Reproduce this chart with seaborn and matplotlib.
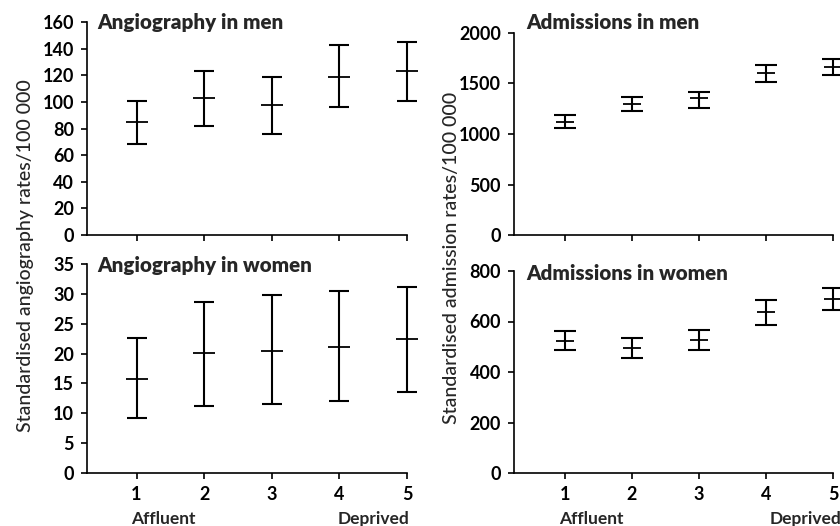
import matplotlib
matplotlib.use("Agg")
import matplotlib.pyplot as plt
import seaborn as sns
import pandas as pd
import numpy as np

# ---- data ----
quintiles = [1, 2, 3, 4, 5]

angio_men = [85, 103, 98, 119, 123]
angio_men_lo = [68, 82, 76, 96, 101]
angio_men_hi = [101, 123, 119, 143, 145]

angio_women = [15.7, 20.1, 20.5, 21.1, 22.4]
angio_women_lo = [9.2, 11.3, 11.6, 12.1, 13.5]
angio_women_hi = [22.6, 28.6, 29.8, 30.4, 31.2]

adm_men = [1120, 1298, 1352, 1608, 1668]
adm_men_lo = [1058, 1232, 1258, 1513, 1580]
adm_men_hi = [1192, 1368, 1420, 1688, 1745]

adm_women = [522, 494, 528, 638, 690]
adm_women_lo = [488, 456, 486, 588, 645]
adm_women_hi = [561, 536, 567, 686, 733]

titles = ["Angiography in men", "Angiography in women",
          "Admissions in men", "Admissions in women"]
ylabels = ["Standardised angiography rates/100 000",
           "Standardised admission rates/100 000"]
xticklabels = ["1", "2", "3", "4", "5"]
end_labels = ["Affluent", "Deprived"]

angio_men_ticks = [0, 20, 40, 60, 80, 100, 120, 140, 160]
angio_women_ticks = [0, 5, 10, 15, 20, 25, 30, 35]
adm_men_ticks = [0, 500, 1000, 1500, 2000]
adm_women_ticks = [0, 200, 400, 600, 800]

# ---- style ----
sns.set_theme(style="ticks")
plt.rcParams["font.family"] = ["Lato", "DejaVu Sans"]
plt.rcParams["axes.linewidth"] = 1.2
plt.rcParams["xtick.major.width"] = 1.2
plt.rcParams["ytick.major.width"] = 1.2
plt.rcParams["xtick.major.size"] = 4
plt.rcParams["ytick.major.size"] = 4.3
plt.rcParams["xtick.major.pad"] = 5
plt.rcParams["ytick.major.pad"] = 5
plt.rcParams["xtick.color"] = "black"
plt.rcParams["ytick.color"] = "black"
plt.rcParams["axes.edgecolor"] = "black"

W, H = 840, 526
fig = plt.figure(figsize=(W / 100, H / 100), dpi=100)
TW = "bold"


def px_axes(left, right, top, bottom):
    return fig.add_axes([left / W, 1 - bottom / H, (right - left) / W, (bottom - top) / H])


panels = [
    dict(box=(87, 407, 22, 235), xlim=(0.268, 5.0), y=angio_men, lo=angio_men_lo,
         hi=angio_men_hi, ticks=angio_men_ticks, title=titles[0], tx=97, ty=29,
         cap=7, mk=16, bottom=False, dx=2),
    dict(box=(87, 407, 264, 473), xlim=(0.268, 5.0), y=angio_women, lo=angio_women_lo,
         hi=angio_women_hi, ticks=angio_women_ticks, title=titles[1], tx=97, ty=272,
         cap=7, mk=16, bottom=True, dx=2),
    dict(box=(514, 833, 33, 235), xlim=(0.239, 5.0), y=adm_men, lo=adm_men_lo,
         hi=adm_men_hi, ticks=adm_men_ticks, title=titles[2], tx=526, ty=29,
         cap=8, mk=13, bottom=False, dx=6),
    dict(box=(514, 833, 271, 473), xlim=(0.239, 5.0), y=adm_women, lo=adm_women_lo,
         hi=adm_women_hi, ticks=adm_women_ticks, title=titles[3], tx=526, ty=280,
         cap=8, mk=13, bottom=True, dx=6),
]

for p in panels:
    ax = px_axes(*p["box"])
    df = pd.DataFrame({"q": quintiles, "v": p["y"]})
    yerr = np.array([np.array(p["y"]) - np.array(p["lo"]),
                     np.array(p["hi"]) - np.array(p["y"])])
    ax.errorbar(df["q"], df["v"], yerr=yerr, fmt="none", ecolor="black",
                elinewidth=1.5, capsize=p["cap"], capthick=1.5, clip_on=False, zorder=3)
    sns.scatterplot(data=df, x="q", y="v", marker="_", s=p["mk"] ** 2, color="black",
                    linewidth=1.3, ax=ax, clip_on=False, zorder=4, legend=False)
    ax.set_xlim(*p["xlim"])
    ax.set_ylim(p["ticks"][0], p["ticks"][-1])
    ax.set_yticks(p["ticks"])
    ax.set_yticklabels([str(t) for t in p["ticks"]], fontsize=13, fontweight=TW)
    ax.set_xticks(quintiles)
    if p["bottom"]:
        ax.set_xticklabels(xticklabels, fontsize=13, fontweight=TW)
        ax.annotate(end_labels[0], xy=(1, 0), xycoords=("data", "axes fraction"),
                    xytext=(-4, -37), textcoords="offset points", ha="left",
                    va="baseline", fontsize=12.5, fontweight=TW)
        ax.annotate(end_labels[1], xy=(5, 0), xycoords=("data", "axes fraction"),
                    xytext=(p["dx"], -37), textcoords="offset points", ha="right",
                    va="baseline", fontsize=12.5, fontweight=TW, annotation_clip=False)
    else:
        ax.set_xticklabels([])
    ax.set_xlabel("")
    ax.set_ylabel("")
    sns.despine(ax=ax)
    fig.text(p["tx"] / W, 1 - p["ty"] / H, p["title"], fontsize=14.8,
             fontweight="heavy", ha="left", va="baseline")

fig.text(26 / W, 1 - 256 / H, ylabels[0], rotation=90, fontsize=14,
         fontweight="medium", ha="center", va="center")
fig.text(452 / W, 1 - 258 / H, ylabels[1], rotation=90, fontsize=14,
         fontweight="medium", ha="center", va="center")

fig.savefig("out.png", dpi=100)
